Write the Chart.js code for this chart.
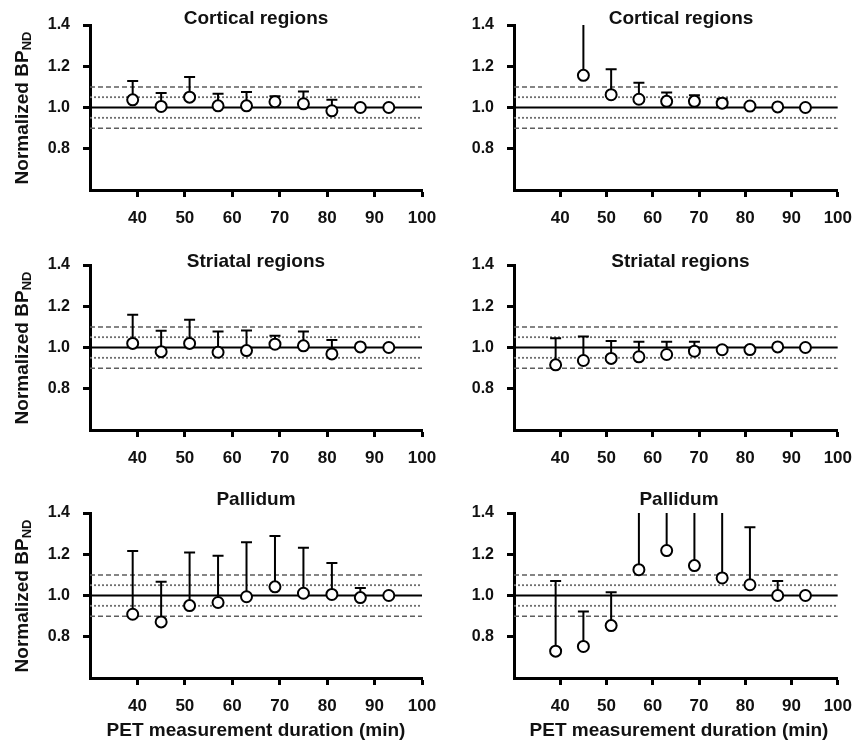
<!DOCTYPE html>
<html lang="en">
<head>
<meta charset="UTF-8" />
<title>Normalized BPND vs PET measurement duration</title>
<script src="https://cdn.jsdelivr.net/npm/chart.js@4"></script>
<style>
	body {
		margin: 0;
		background: #fff;
		font-family: "Liberation Sans", Arial, sans-serif;
	}

	#stage {
		position: relative;
		width: 863px;
		height: 748px;
		overflow: hidden;
	}

	#stage canvas {
		position: absolute;
		left: 0;
		top: 0;
	}

	.label {
		position: absolute;
		font-weight: bold;
		color: #111;
		white-space: nowrap;
		text-align: center;
	}

	.panel-title {
		font-size: 19px;
		line-height: 22px;
		width: 240px;
	}

	.y-title {
		font-size: 19px;
		line-height: 24px;
		width: 200px;
		transform: rotate(-90deg);
	}

	.y-title sub {
		font-size: 13px;
		vertical-align: -3px;
		line-height: 0;
	}

	.x-title {
		font-size: 19px;
		line-height: 24px;
		width: 340px;
	}
</style>
</head>
<body>
<div id="stage"></div>

<script>
	// x positions of the points (min)
	const durations = [39, 45, 51, 57, 63, 69, 75, 81, 87, 93];
	const xTicks = [40, 50, 60, 70, 80, 90, 100];
	const yTicks = [0.8, 1.0, 1.2, 1.4];
	const refLines = [0.9, 0.95, 1.0, 1.05, 1.1];
	const panelTitles = ['Cortical regions', 'Striatal regions', 'Pallidum'];

	// left column
	const corticalLeftMean = [1.037, 1.005, 1.05, 1.008, 1.008, 1.028, 1.018, 0.984, 1.0, 1.0];
	const corticalLeftUpper = [1.128, 1.07, 1.148, 1.067, 1.075, 1.055, 1.078, 1.037, 1.0, 1.0];
	const striatalLeftMean = [1.02, 0.98, 1.02, 0.977, 0.985, 1.016, 1.008, 0.969, 1.003, 1.0];
	const striatalLeftUpper = [1.159, 1.081, 1.135, 1.078, 1.083, 1.057, 1.078, 1.036, 1.003, 1.0];
	const pallidumLeftMean = [0.909, 0.872, 0.951, 0.966, 0.994, 1.042, 1.011, 1.005, 0.99, 1.0];
	const pallidumLeftUpper = [1.216, 1.067, 1.208, 1.193, 1.258, 1.289, 1.232, 1.157, 1.036, 1.0];

	// right column (upper values above 1.4 are cut off by the axis)
	const corticalRightMean = [null, 1.156, 1.062, 1.04, 1.03, 1.03, 1.021, 1.007, 1.003, 1.0];
	const corticalRightUpper = [null, 1.5, 1.186, 1.12, 1.073, 1.06, 1.042, 1.007, 1.003, 1.0];
	const striatalRightMean = [0.916, 0.937, 0.947, 0.955, 0.966, 0.982, 0.989, 0.99, 1.003, 1.0];
	const striatalRightUpper = [1.045, 1.053, 1.032, 1.028, 1.028, 1.028, 1.003, 0.99, 1.003, 1.0];
	const pallidumRightMean = [0.73, 0.753, 0.854, 1.125, 1.218, 1.145, 1.085, 1.052, 1.0, 1.0];
	const pallidumRightUpper = [1.07, 0.923, 1.016, 1.5, 1.5, 1.5, 1.5, 1.331, 1.07, 1.0];

	const W = 863;
	const H = 748;
	const FONT = '"Liberation Sans", Arial, sans-serif';

	// chart area of each panel in page pixels
	const panels = [
		{ title: 0, mean: corticalLeftMean, upper: corticalLeftUpper, left: 90, right: 422, top: 25, bottom: 190, titleY: 18, yTitle: true },
		{ title: 0, mean: corticalRightMean, upper: corticalRightUpper, left: 514, right: 848, top: 25, bottom: 190, titleY: 18 },
		{ title: 1, mean: striatalLeftMean, upper: striatalLeftUpper, left: 90, right: 422, top: 265, bottom: 430, titleY: 261, yTitle: true },
		{ title: 1, mean: striatalRightMean, upper: striatalRightUpper, left: 514, right: 847, top: 265, bottom: 430, titleY: 261 },
		{ title: 2, mean: pallidumLeftMean, upper: pallidumLeftUpper, left: 90, right: 422, top: 513, bottom: 678, titleY: 499, yTitle: true, xTitle: true },
		{ title: 2, mean: pallidumRightMean, upper: pallidumRightUpper, left: 514, right: 844, top: 513, bottom: 678, titleY: 499, xTitle: true },
	];

	const refStyle = (value) => {
		if (value === 1.0) {
			return { borderColor: '#000', borderWidth: 2, borderDash: [] };
		}
		if (Math.abs(value - 1) > 0.07) {
			return { borderColor: '#5e5e5e', borderWidth: 1.5, borderDash: [5, 3] };
		}
		return { borderColor: '#6e6e6e', borderWidth: 1.8, borderDash: [2, 2] };
	};

	// vertical upper whiskers with caps, drawn just before the points
	const errorBars = {
		id: 'errorBars',
		beforeDatasetDraw(chart, args) {
			const ds = chart.data.datasets[args.index];
			if (!ds.upper) {
				return;
			}
			const { ctx, chartArea, scales } = chart;
			ctx.save();
			ctx.beginPath();
			ctx.rect(chartArea.left, chartArea.top, chartArea.right - chartArea.left, chartArea.bottom - chartArea.top);
			ctx.clip();
			ctx.strokeStyle = '#000';
			ctx.lineWidth = 2;
			ds.data.forEach((pt, i) => {
				const up = ds.upper[i];
				if (up === null || up <= pt.y) {
					return;
				}
				const px = scales.x.getPixelForValue(pt.x);
				const py = scales.y.getPixelForValue(pt.y);
				const pu = scales.y.getPixelForValue(up);
				ctx.beginPath();
				ctx.moveTo(px, py);
				ctx.lineTo(px, pu);
				if (up < scales.y.max) {
					ctx.moveTo(px - 5.5, pu);
					ctx.lineTo(px + 5.5, pu);
				}
				ctx.stroke();
			});
			ctx.restore();
		},
	};

	const stage = document.getElementById('stage');

	const addLabel = (cls, html, left, top) => {
		const el = document.createElement('div');
		el.className = 'label ' + cls;
		el.innerHTML = html;
		el.style.left = left + 'px';
		el.style.top = top + 'px';
		stage.appendChild(el);
	};

	panels.forEach((p) => {
		const canvas = document.createElement('canvas');
		canvas.width = W;
		canvas.height = H;
		stage.appendChild(canvas);

		const points = [];
		const uppers = [];
		durations.forEach((d, i) => {
			if (p.mean[i] !== null) {
				points.push({ x: d, y: p.mean[i] });
				uppers.push(p.upper[i]);
			}
		});

		const refSets = refLines.map((v) => ({
			type: 'line',
			data: [{ x: 30, y: v }, { x: 100, y: v }],
			pointRadius: 0,
			fill: false,
			order: 2,
			...refStyle(v),
		}));

		new Chart(canvas, {
			type: 'scatter',
			data: {
				datasets: [
					{
						data: points,
						upper: uppers,
						pointRadius: 5.5,
						pointBorderWidth: 2,
						pointBackgroundColor: '#fff',
						pointBorderColor: '#000',
						order: 0,
					},
					...refSets,
				],
			},
			options: {
				responsive: false,
				animation: false,
				events: [],
				layout: {
					padding: { left: 0, top: p.top, right: W - p.right, bottom: 0 },
				},
				plugins: {
					legend: { display: false },
					tooltip: { enabled: false },
				},
				scales: {
					x: {
						type: 'linear',
						min: 30,
						max: 100,
						afterBuildTicks: (s) => { s.ticks = xTicks.map((v) => ({ value: v })); },
						afterFit: (s) => { s.height = H - p.bottom; },
						border: { color: '#000', width: 3 },
						grid: { drawOnChartArea: false, tickLength: 7, tickWidth: 3, tickColor: '#000' },
						ticks: {
							padding: 11,
							color: '#111',
							font: { family: FONT, size: 17, weight: 'bold' },
							maxRotation: 0,
							autoSkip: false,
							callback: (v) => String(v),
						},
					},
					y: {
						type: 'linear',
						min: 0.6,
						max: 1.4,
						afterBuildTicks: (s) => { s.ticks = yTicks.map((v) => ({ value: v })); },
						afterFit: (s) => { s.width = p.left; },
						border: { color: '#000', width: 3 },
						grid: { drawOnChartArea: false, tickLength: 7, tickWidth: 3, tickColor: '#000' },
						ticks: {
							padding: 13,
							color: '#111',
							font: { family: FONT, size: 16, weight: 'bold' },
							callback: (v) => Number(v).toFixed(1),
						},
					},
				},
			},
			plugins: [errorBars],
		});

		const cx = (p.left + p.right) / 2;
		addLabel('panel-title', panelTitles[p.title], cx - 120, p.titleY - 11);
		if (p.yTitle) {
			addLabel('y-title', 'Normalized BP<sub>ND</sub>', 22 - 100, (p.top + p.bottom) / 2 - 12);
		}
		if (p.xTitle) {
			addLabel('x-title', 'PET measurement duration (min)', cx - 170, 718);
		}
	});
</script>
</body>
</html>
